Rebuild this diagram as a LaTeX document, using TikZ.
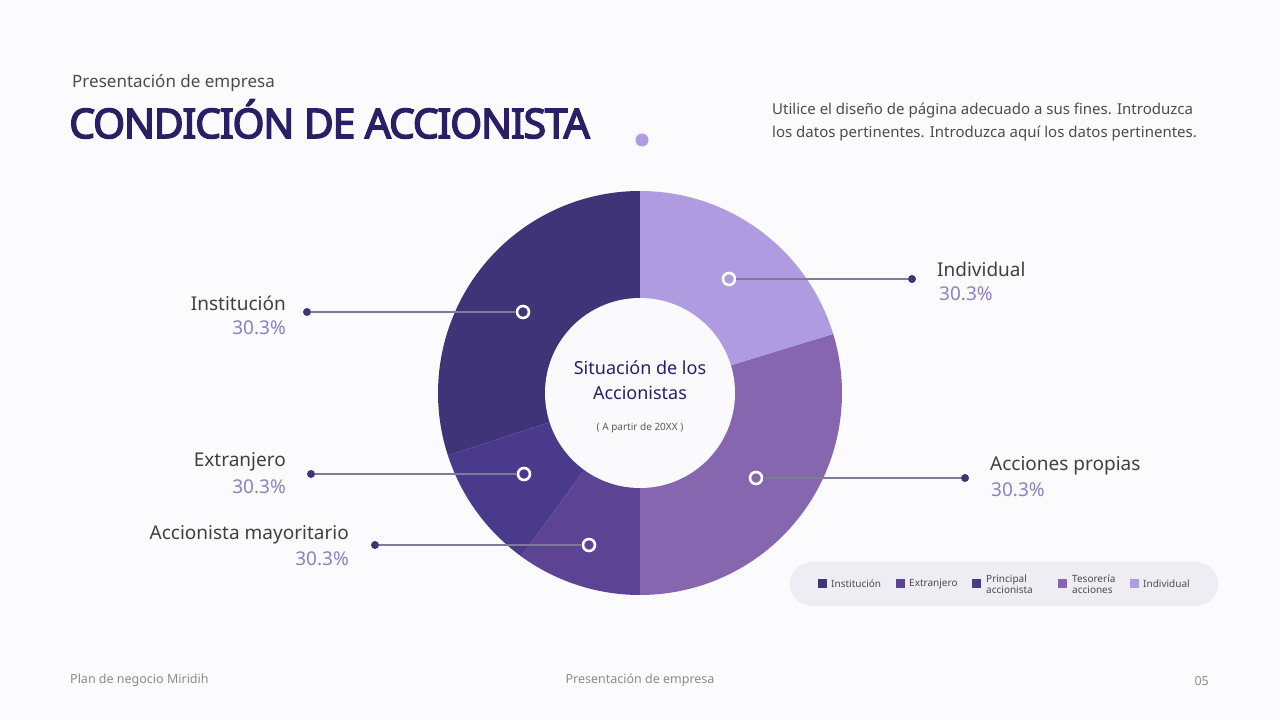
\documentclass[tikz,border=0pt]{standalone}
\usepackage{fontspec}
\setmainfont{Noto Sans}
\newfontfamily\titfont{Noto Sans}[FakeBold=3.5,LetterSpace=-3]
\begin{document}
\begin{tikzpicture}[x=1pt,y=1pt,
  lbl/.style={inner sep=0pt,font=\fontsize{19}{22}\selectfont,text=black!75},
  pct/.style={inner sep=0pt,font=\fontsize{19}{22}\selectfont,text=pctc},
  lead/.style={draw=leadc,line width=1.2pt},
  ring/.style={circle,draw=white,line width=2.6pt,fill=none,minimum size=12pt,inner sep=0pt},
  enddot/.style={circle,fill=dotc,minimum size=8pt,inner sep=0pt},
  leg/.style={inner sep=0pt,anchor=west,font=\fontsize{10}{11}\selectfont,text=black!70,align=left},
  sq/.style={minimum size=9pt,inner sep=0pt}]
\definecolor{cI}{HTML}{3F3478}
\definecolor{cE}{HTML}{4A3A8C}
\definecolor{cP}{HTML}{5D4393}
\definecolor{cA}{HTML}{8766B0}
\definecolor{cN}{HTML}{AE9BE0}
\definecolor{pctc}{HTML}{8C80C2}
\definecolor{leadc}{HTML}{7E7A9A}
\definecolor{dotc}{HTML}{3F3478}
\definecolor{titc}{HTML}{2A1F66}
\definecolor{bgc}{HTML}{FBFBFD}
\definecolor{holec}{HTML}{FAFAFC}
\definecolor{legc}{HTML}{EEEDF3}
\fill[bgc] (0,0) rectangle (1280,720);
\useasboundingbox (0,0) rectangle (1280,720);
% header
\node[anchor=west,inner sep=0pt,font=\fontsize{17}{20}\selectfont,text=black!70] (sub) at (72,637) {Presentación de empresa};
\node[anchor=west,inner sep=0pt,font=\fontsize{41}{46}\titfont,text=titc] (tit) at (69,601) {CONDICIÓN DE ACCIONISTA};
\node[circle,fill=cN,minimum size=13pt,inner sep=0pt] (tdot) at (642,580) {};
\node[anchor=north west,inner sep=0pt,align=left,font=\fontsize{15}{23}\selectfont,text=black!70] (desc) at (772,617) {Utilice el diseño de página adecuado a sus fines. Introduzca\\los datos pertinentes. Introduzca aquí los datos pertinentes.};
% donut
\coordinate (c) at (640,327);
\fill[cI] (c) -- ++(90:202) arc (90:198:202) -- cycle;
\fill[cE] (c) -- ++(198:202) arc (198:234:202) -- cycle;
\fill[cP] (c) -- ++(234:202) arc (234:270:202) -- cycle;
\fill[cA] (c) -- ++(270:202) arc (270:377:202) -- cycle;
\fill[cN] (c) -- ++(17:202) arc (17:90:202) -- cycle;
\fill[holec] (c) circle (95);
\node[inner sep=0pt,align=center,font=\fontsize{18}{25}\selectfont,text=titc] (ct) at (640,340) {Situación de los\\Accionistas};
\node[inner sep=0pt,font=\fontsize{10}{12}\selectfont,text=black!65] (cs) at (640,292) {( A partir de 20XX )};
% leaders
\node[ring] (r1) at (523,408) {};
\node[enddot] (d1) at (307,408) {};
\draw[lead] (d1) -- (r1);
\node[lbl,anchor=east] (l1) at (286,417) {Institución};
\node[pct,anchor=east] (p1) at (286,392) {30.3\%};
\node[ring] (r2) at (524,246) {};
\node[enddot] (d2) at (311,246) {};
\draw[lead] (d2) -- (r2);
\node[lbl,anchor=east] (l2) at (286,258) {Extranjero};
\node[pct,anchor=east] (p2) at (286,233) {30.3\%};
\node[ring] (r3) at (589,175) {};
\node[enddot] (d3) at (375,175) {};
\draw[lead] (d3) -- (r3);
\node[lbl,anchor=east] (l3) at (349,185) {Accionista mayoritario};
\node[pct,anchor=east] (p3) at (349,161) {30.3\%};
\node[ring] (r4) at (729,441) {};
\node[enddot] (d4) at (912,441) {};
\draw[lead] (r4) -- (d4);
\node[lbl,anchor=west] (l4) at (937,451) {Individual};
\node[pct,anchor=west] (p4) at (939,426) {30.3\%};
\node[ring] (r5) at (756,242) {};
\node[enddot] (d5) at (965,242) {};
\draw[lead] (r5) -- (d5);
\node[lbl,anchor=west] (l5) at (990,254) {Acciones propias};
\node[pct,anchor=west] (p5) at (991,230) {30.3\%};
% legend
\fill[legc,rounded corners=22pt] (790,114) rectangle (1218,158);
\node[sq,fill=cI] (s1) at (822,136) {}; \node[leg] (t1) at (831,136) {Institución};
\node[sq,fill=cP] (s2) at (900,136) {}; \node[leg] (t2) at (909,136) {Extranjero};
\node[sq,fill=cE] (s3) at (976,136) {}; \node[leg] (t3) at (986,136) {Principal\\accionista};
\node[sq,fill=cA] (s4) at (1062,136) {}; \node[leg] (t4) at (1072,136) {Tesorería\\acciones};
\node[sq,fill=cN] (s5) at (1134,136) {}; \node[leg] (t5) at (1143,136) {Individual};
% footer
\node[anchor=west,inner sep=0pt,font=\fontsize{12.5}{14}\selectfont,text=black!45] (f1) at (70,40) {Plan de negocio Miridih};
\node[inner sep=0pt,font=\fontsize{12.5}{14}\selectfont,text=black!45] (f2) at (640,40) {Presentación de empresa};
\node[anchor=east,inner sep=0pt,font=\fontsize{12.5}{14}\selectfont,text=black!45] (f3) at (1209,39) {05};
\end{tikzpicture}
\end{document}
